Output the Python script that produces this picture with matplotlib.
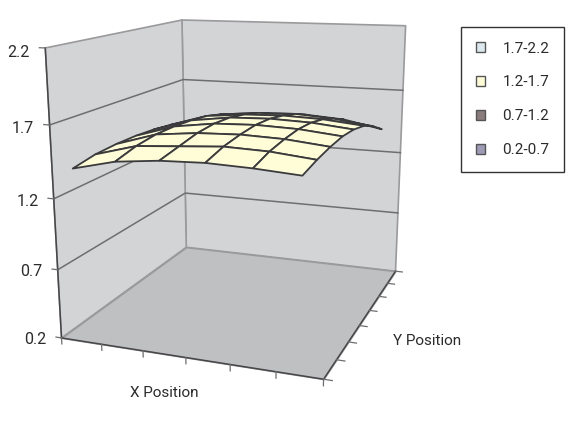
import numpy as np
import matplotlib
matplotlib.use("Agg")
from matplotlib import pyplot as plt
from matplotlib.patches import Patch
from mpl_toolkits.mplot3d import proj3d
from mpl_toolkits.mplot3d.art3d import Poly3DCollection

plt.rcParams['font.family'] = ['Roboto', 'Liberation Sans', 'DejaVu Sans']

# surface values, rows run front (low Y) to back (high Y), columns left to right
x_centers = [0.5, 1.5, 2.5, 3.5, 4.5, 5.5]
y_centers = [0, 1, 2, 3, 4, 5, 6, 7]
surface_z = [
    [1.42, 1.49, 1.52, 1.53, 1.52, 1.50],
    [1.45, 1.53, 1.55, 1.57, 1.56, 1.53],
    [1.46, 1.55, 1.58, 1.59, 1.58, 1.55],
    [1.46, 1.55, 1.59, 1.60, 1.59, 1.56],
    [1.45, 1.54, 1.58, 1.59, 1.58, 1.55],
    [1.43, 1.52, 1.55, 1.56, 1.55, 1.52],
    [1.40, 1.48, 1.51, 1.52, 1.50, 1.46],
    [1.37, 1.42, 1.45, 1.46, 1.44, 1.38],
]
z_ticks = [0.2, 0.7, 1.2, 1.7, 2.2]
z_labels = ['0.2', '0.7', '1.2', '1.7', '2.2']
x_ticks = [0, 1, 2, 3, 4, 5, 6]
y_ticks = [0, 1, 2, 3, 4, 5, 6, 7]
legend_labels = ['1.7-2.2', '1.2-1.7', '0.7-1.2', '0.2-0.7']
legend_colors = ['#dbe8ee', '#fffdd8', '#8a7c7c', '#9d9bb5']

W, H = 570, 428
X_MAX, Y_MAX = x_ticks[-1], y_ticks[-1]
Z_MIN, Z_MAX = z_ticks[0], z_ticks[-1]

# box corners in the chart -> where they sit on the page, used to fit the camera
anchors = [
    ((0, 0, 0.2), (62, 338)), ((X_MAX, 0, 0.2), (323, 380)),
    ((X_MAX, Y_MAX, 0.2), (396, 270)), ((0, Y_MAX, 0.2), (186, 248)),
    ((0, 0, 2.2), (45, 48)), ((0, Y_MAX, 2.2), (182, 20)),
    ((X_MAX, Y_MAX, 2.2), (406, 26)),
    ((0, 0, 1.2), (54, 198)), ((0, Y_MAX, 1.2), (184, 137)),
    ((X_MAX, Y_MAX, 1.2), (400, 153)),
]


def fit_camera(pairs):
    """3D -> pixel matrix (3x4) by least squares"""
    rows, rhs = [], []
    for (x, y, z), (px, py) in pairs:
        py = H - py
        rows.append([x, y, z, 1, 0, 0, 0, 0, -px * x, -px * y, -px * z])
        rows.append([0, 0, 0, 0, x, y, z, 1, -py * x, -py * y, -py * z])
        rhs += [px, py]
    sol = np.linalg.lstsq(np.array(rows, float), np.array(rhs, float), rcond=None)[0]
    return np.append(sol, 1.0).reshape(3, 4)


fig = plt.figure(figsize=(W / 100, H / 100), dpi=100)
# square axes wider than the page, so nothing gets clipped
ax = fig.add_axes([0, -(W - H) / 2 / H, 1, W / H], projection='3d', computed_zorder=False)
ax.set_axis_off()
ax.apply_aspect()

cam = fit_camera(anchors)
to_data = ax.transData.inverted().get_matrix()
page = to_data @ cam
# third row is depth: has to stay negative or mplot3d masks the line points
proj = np.array([page[0], page[1], [0, 1, 0, -(Y_MAX + 1)], page[2]])
ax.get_proj = lambda: proj


def label(x, y, z, s, **kw):
    """plain 2D text at the projected position of a chart point"""
    px, py, _ = proj3d.proj_transform(x, y, z, proj)
    ax.text2D(px, py, s, transform=ax.transData, va='center', color=TEXT, **kw)


WALL = '#d3d4d6'
FLOOR = '#bfc0c2'
GRID = '#6e6e70'
EDGE = '#9a9a9c'
DARK = '#47474a'
TEXT = '#2b2b2b'

floor = [(0, 0, Z_MIN), (X_MAX, 0, Z_MIN), (X_MAX, Y_MAX, Z_MIN), (0, Y_MAX, Z_MIN)]
left_wall = [(0, 0, Z_MIN), (0, Y_MAX, Z_MIN), (0, Y_MAX, Z_MAX), (0, 0, Z_MAX)]
back_wall = [(0, Y_MAX, Z_MIN), (X_MAX, Y_MAX, Z_MIN), (X_MAX, Y_MAX, Z_MAX), (0, Y_MAX, Z_MAX)]
ax.add_collection3d(Poly3DCollection([left_wall, back_wall], facecolor=WALL, edgecolor=EDGE, linewidth=1.2, zorder=1))
ax.add_collection3d(Poly3DCollection([floor], facecolor=FLOOR, edgecolor=EDGE, linewidth=1.0, zorder=2))

for z in z_ticks[1:-1]:
    ax.plot([0, 0, X_MAX], [0, Y_MAX, Y_MAX], [z, z, z], color=GRID, lw=1.1, zorder=3)

# front edges and ticks
ax.plot([0, 0], [0, 0], [Z_MIN, Z_MAX], color=DARK, lw=1.1, zorder=3)
ax.plot([0, X_MAX, X_MAX], [0, 0, Y_MAX], [Z_MIN] * 3, color=DARK, lw=1.1, zorder=3)
for z, lab in zip(z_ticks, z_labels):
    ax.plot([-0.14, 0], [0, 0], [z, z], color=GRID, lw=0.9, zorder=3)
    label(-0.38, 0, z - 0.03, lab, ha='right', fontsize=11.5)
for x in x_ticks:
    ax.plot([x, x], [0, 0], [Z_MIN, Z_MIN - 0.045], color=GRID, lw=0.9, zorder=3)
for y in y_ticks:
    ax.plot([X_MAX, X_MAX + 0.18], [y, y], [Z_MIN, Z_MIN], color=GRID, lw=0.9, zorder=3)
label(2.53, -0.1, -0.07, 'X Position', ha='center', fontsize=11)
label(X_MAX + 1.45, 3.5, 0.09, 'Y Position', ha='center', fontsize=11)

xx, yy = np.meshgrid(x_centers, y_centers)
ax.plot_surface(xx, yy, np.array(surface_z), rstride=1, cstride=1, color='#fffdd8',
                edgecolor='#3a3a3c', linewidth=1.3, shade=False, zorder=4)

handles = [Patch(facecolor=c, edgecolor='#555555', linewidth=1.0) for c in legend_colors]
fig.legend(handles, legend_labels, loc='upper left', bbox_to_anchor=(461 / W, 1 - 27 / H),
           frameon=True, fancybox=False, framealpha=1, edgecolor='#333333', fontsize=11,
           handlelength=0.65, handleheight=0.65, handletextpad=1.1, labelspacing=1.3,
           borderpad=0.95, borderaxespad=0, labelcolor=TEXT)

fig.savefig('out.png', dpi=100)
